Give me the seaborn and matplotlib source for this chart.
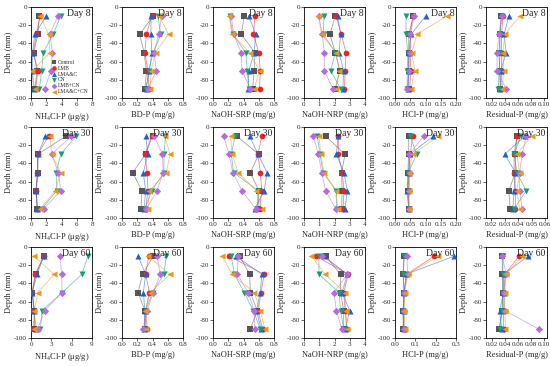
import numpy as np
import pandas as pd
import matplotlib
matplotlib.use("Agg")
import matplotlib.pyplot as plt
import seaborn as sns

sns.set_style("ticks")
plt.rcParams["font.family"] = ["Liberation Serif", "DejaVu Serif"]
plt.rcParams["mathtext.fontset"] = "stix"
plt.rcParams["axes.unicode_minus"] = False

treatments = ["Control", "LMB", "LMA&C", "CN", "LMB+CN", "LMA&C+CN"]
depths = [-10, -30, -50, -70, -90]
days = [8, 30, 60]

# values per treatment (Control, LMB, LMA&C, CN, LMB+CN, LMA&C+CN), depth -10 .. -90
nh4cl_d8 = [[1.1, 0.9, 0.35, 0.8, 0.5], [1.2, 0.7, 0.3, 0.9, 0.6], [2.0, 0.5, 0.2, 0.15, 0.35],
            [3.9, 2.9, 1.6, 1.4, 1.1], [3.5, 2.5, 2.8, 2.6, 1.8], [1.2, 2.3, 2.5, 0.15, 0.5]]
bd_d8 = [[0.41, 0.23, 0.29, 0.32, 0.30], [0.39, 0.32, 0.30, 0.34, 0.35], [0.38, 0.38, 0.39, 0.36, 0.31],
         [0.47, 0.51, 0.41, 0.35, 0.32], [0.52, 0.48, 0.42, 0.45, 0.34], [0.49, 0.61, 0.44, 0.38, 0.37]]
srp_d8 = [[0.41, 0.37, 0.55, 0.54, 0.52], [0.55, 0.53, 0.60, 0.62, 0.61], [0.47, 0.56, 0.54, 0.47, 0.46],
          [0.22, 0.26, 0.43, 0.45, 0.47], [0.24, 0.27, 0.37, 0.38, 0.49], [0.21, 0.25, 0.48, 0.61, 0.54]]
nrp_d8 = [[2.05, 1.7, 2.05, 2.35, 2.05], [2.1, 2.45, 2.75, 2.7, 2.65], [2.2, 2.4, 2.3, 2.6, 2.55],
          [1.3, 1.28, 2.05, 1.75, 2.4], [0.97, 1.2, 1.33, 1.33, 1.9], [0.95, 1.15, 2.1, 2.3, 2.1]]
hcl_d8 = [[0.060, 0.045, 0.045, 0.045, 0.045], [0.058, 0.050, 0.050, 0.052, 0.048],
          [0.100, 0.053, 0.045, 0.045, 0.042], [0.036, 0.036, 0.042, 0.040, 0.040],
          [0.063, 0.050, 0.048, 0.045, 0.040], [0.170, 0.072, 0.055, 0.065, 0.052]]
res_d8 = [[0.034, 0.033, 0.031, 0.032, 0.033], [0.037, 0.035, 0.035, 0.035, 0.034],
          [0.046, 0.039, 0.042, 0.034, 0.033], [0.036, 0.032, 0.033, 0.031, 0.030],
          [0.035, 0.031, 0.028, 0.028, 0.042], [0.063, 0.040, 0.037, 0.038, 0.036]]

nh4cl_d30 = [[4.6, 0.9, 0.9, 0.7, 0.8], [2.3, 0.9, 0.85, 0.65, 0.9], [1.9, 0.9, 0.85, 0.65, 0.8],
             [5.9, 3.9, 3.3, 3.4, 1.4], [5.3, 2.7, 3.6, 3.9, 1.65], [2.5, 2.7, 3.9, 3.2, 1.2]]
bd_d30 = [[0.40, 0.31, 0.14, 0.26, 0.25], [0.39, 0.30, 0.33, 0.34, 0.31], [0.31, 0.34, 0.28, 0.31, 0.29],
          [0.57, 0.55, 0.55, 0.39, 0.30], [0.42, 0.53, 0.54, 0.46, 0.32], [0.56, 0.63, 0.58, 0.36, 0.34]]
srp_d30 = [[0.31, 0.60, 0.49, 0.60, 0.59], [0.64, 0.59, 0.62, 0.64, 0.61], [0.48, 0.59, 0.71, 0.67, 0.55],
           [0.29, 0.24, 0.27, 0.59, 0.58], [0.14, 0.21, 0.26, 0.38, 0.56], [0.23, 0.25, 0.33, 0.57, 0.64]]
nrp_d30 = [[1.42, 2.69, 2.47, 2.5, 2.47], [2.25, 2.25, 2.51, 2.62, 2.56], [2.25, 2.12, 2.62, 2.84, 2.69],
           [0.87, 1.05, 1.25, 2.1, 2.15], [0.62, 0.94, 1.16, 1.42, 2.08], [0.98, 1.1, 1.31, 2.12, 2.2]]
hcl_d30 = [[0.045, 0.045, 0.042, 0.042, 0.045], [0.058, 0.050, 0.045, 0.045, 0.045],
           [0.126, 0.048, 0.045, 0.039, 0.045], [0.050, 0.071, 0.044, 0.045, 0.045],
           [0.094, 0.047, 0.050, 0.045, 0.045], [0.142, 0.058, 0.045, 0.045, 0.046]]
res_d30 = [[0.039, 0.038, 0.038, 0.033, 0.034], [0.039, 0.037, 0.037, 0.038, 0.038],
           [0.045, 0.030, 0.038, 0.037, 0.036], [0.042, 0.037, 0.039, 0.046, 0.037],
           [0.046, 0.043, 0.041, 0.041, 0.043], [0.050, 0.039, 0.041, 0.039, 0.041]]

nh4cl_d60 = [[1.9, 0.7, 0.15, 0.5, 0.4], [1.9, 0.6, 0.2, 0.5, 0.5], [1.9, 0.9, 0.2, 0.4, 0.8],
             [8.4, 7.5, 4.6, 1.6, 1.4], [4.3, 4.5, 4.6, 2.0, 1.0], [0.4, 3.4, 1.0, 0.5, 0.4]]
bd_d60 = [[0.41, 0.27, 0.21, 0.30, 0.30], [0.35, 0.31, 0.36, 0.31, 0.33], [0.21, 0.31, 0.28, 0.30, 0.29],
          [0.58, 0.55, 0.40, 0.31, 0.30], [0.46, 0.50, 0.41, 0.33, 0.28], [0.34, 0.63, 0.37, 0.30, 0.31]]
srp_d60 = [[0.35, 0.48, 0.49, 0.58, 0.49], [0.21, 0.67, 0.63, 0.59, 0.65], [0.30, 0.64, 0.62, 0.57, 0.63],
           [0.24, 0.28, 0.41, 0.53, 0.62], [0.33, 0.32, 0.46, 0.54, 0.55], [0.12, 0.25, 0.54, 0.62, 0.68]]
nrp_d60 = [[1.42, 2.4, 2.4, 2.6, 2.6], [0.77, 2.9, 2.6, 2.7, 2.8], [1.3, 2.84, 2.5, 3.0, 2.7],
           [0.98, 0.98, 2.3, 2.4, 2.6], [1.2, 2.85, 1.97, 2.12, 2.47], [0.48, 1.38, 2.69, 2.73, 2.85]]
hcl_d60 = [[0.046, 0.040, 0.045, 0.040, 0.040], [0.193, 0.058, 0.045, 0.042, 0.042],
           [0.292, 0.054, 0.045, 0.042, 0.042], [0.043, 0.040, 0.045, 0.040, 0.042],
           [0.059, 0.062, 0.042, 0.042, 0.045], [0.213, 0.062, 0.048, 0.045, 0.048]]
res_d60 = [[0.036, 0.036, 0.037, 0.036, 0.031], [0.062, 0.040, 0.039, 0.038, 0.038],
           [0.076, 0.038, 0.038, 0.032, 0.035], [0.037, 0.037, 0.037, 0.036, 0.032],
           [0.036, 0.042, 0.038, 0.040, 0.092], [0.067, 0.042, 0.040, 0.040, 0.041]]

panels = [[nh4cl_d8, bd_d8, srp_d8, nrp_d8, hcl_d8, res_d8],
          [nh4cl_d30, bd_d30, srp_d30, nrp_d30, hcl_d30, res_d30],
          [nh4cl_d60, bd_d60, srp_d60, nrp_d60, hcl_d60, res_d60]]

xlabels = [r"NH$_4$Cl-P (μg/g)", "BD-P (mg/g)", "NaOH-SRP (mg/g)", "NaOH-NRP (mg/g)",
           "HCl-P (mg/g)", "Residual-P (mg/g)"]

# (xlim, ticks, format) for each row/column
row_axes = [
    [((0, 8), [0, 2, 4, 6, 8], "%d"), ((0, 0.8), [0, 0.2, 0.4, 0.6, 0.8], "%.1f"),
     ((0, 0.8), [0, 0.2, 0.4, 0.6, 0.8], "%.1f"), ((0, 4), [0, 1, 2, 3, 4], "%d"),
     ((0, 0.2), [0, 0.05, 0.1, 0.15, 0.2], "%.2f"), ((0.011, 0.105), [0.02, 0.04, 0.06, 0.08, 0.1], "%.2f")],
    [((0, 8), [0, 2, 4, 6, 8], "%d"), ((0, 0.8), [0, 0.2, 0.4, 0.6, 0.8], "%.1f"),
     ((0, 0.8), [0, 0.2, 0.4, 0.6, 0.8], "%.1f"), ((0, 4), [0, 1, 2, 3, 4], "%d"),
     ((0, 0.2), [0, 0.05, 0.1, 0.15, 0.2], "%.2f"), ((0.016, 0.0615), [0.02, 0.03, 0.04, 0.05, 0.06], "%.2f")],
    [((0, 9), [0, 3, 6, 9], "%d"), ((0, 0.8), [0, 0.2, 0.4, 0.6, 0.8], "%.1f"),
     ((0, 0.8), [0, 0.2, 0.4, 0.6, 0.8], "%.1f"), ((0, 4), [0, 1, 2, 3, 4], "%d"),
     ((0, 0.3), [0, 0.1, 0.2, 0.3], "%.1f"), ((0.011, 0.105), [0.02, 0.04, 0.06, 0.08, 0.1], "%.2f")],
]

colors = ["#555555", "#e8262a", "#1f5fd0", "#169e78", "#b56be0", "#e89a1c"]
markers = ["s", "o", "^", "v", "D", "<"]
msizes = [14, 17, 19, 19, 14, 19]
palette = dict(zip(treatments, colors))

fig = plt.figure(figsize=(5.5, 3.66), dpi=100)
W, H = 550, 366

for r in range(3):
    for c in range(6):
        left = (31 + c * 91) / W
        bottom = 1 - (98 + r * 120) / H
        ax = fig.add_axes([left, bottom, 61 / W, 91 / H])
        vals = panels[r][c]
        df = pd.DataFrame({
            "value": np.concatenate(vals),
            "depth": depths * 6,
            "treatment": np.repeat(treatments, 5),
        })
        sns.lineplot(data=df, x="value", y="depth", hue="treatment", palette=palette,
                     sort=False, estimator=None, orient="y", lw=0.6, alpha=0.55,
                     legend=False, ax=ax)
        for i, t in enumerate(treatments):
            sub = df[df.treatment == t]
            sns.scatterplot(data=sub, x="value", y="depth", color=colors[i], marker=markers[i],
                            s=msizes[i], linewidth=0, ax=ax, label=t if (r == 0 and c == 0) else None,
                            zorder=3)
        xlim, ticks, fmt = row_axes[r][c]
        ax.set_xlim(*xlim)
        ax.set_xticks(ticks)
        ax.xaxis.set_major_formatter(matplotlib.ticker.FormatStrFormatter(fmt))
        ax.set_ylim(-100, 0)
        ax.set_yticks([0, -20, -40, -60, -80, -100])
        ax.tick_params(labelsize=5, length=2, width=0.5, pad=1, direction="out")
        for s in ax.spines.values():
            s.set_linewidth(0.6)
            s.set_color("black")
        ax.set_xlabel(xlabels[c], fontsize=6, labelpad=3)
        ax.set_ylabel("Depth (mm)", fontsize=6, labelpad=1)
        ax.text(0.98, 0.98, "Day %d" % days[r], transform=ax.transAxes, ha="right", va="top",
                fontsize=7)
        if r == 0 and c == 0:
            ax.legend(loc="lower right", fontsize=4, frameon=False, handletextpad=0.1,
                      labelspacing=0.15, borderaxespad=0.3, markerscale=0.8, handlelength=1)
        elif ax.get_legend() is not None:
            ax.get_legend().remove()

fig.savefig("out.png", dpi=100)
